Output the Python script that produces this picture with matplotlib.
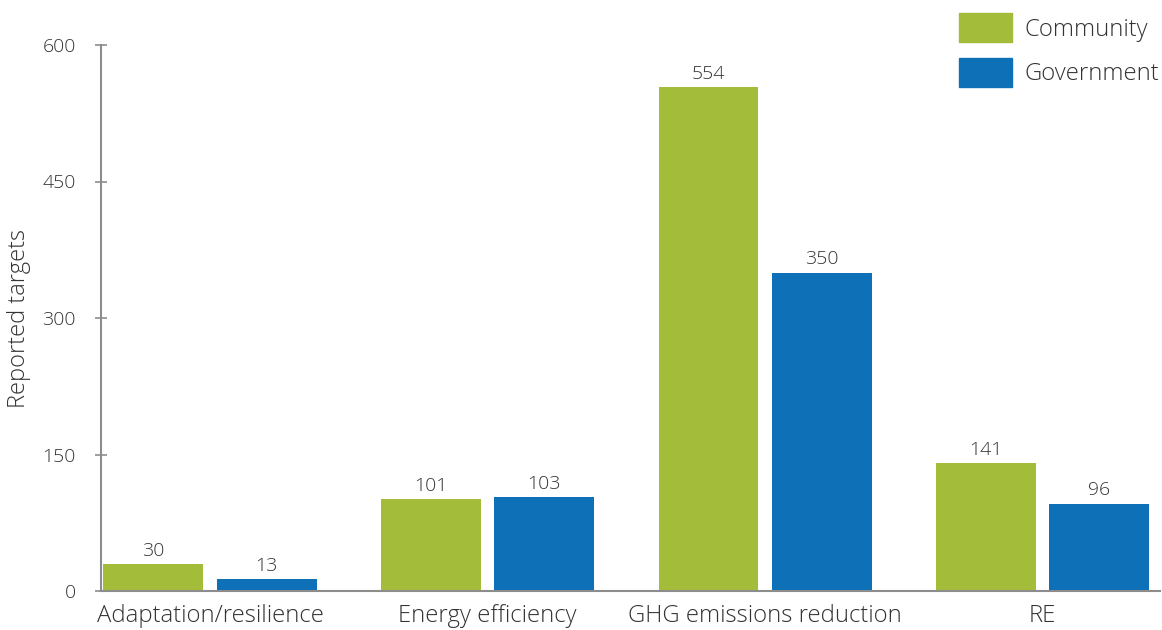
import matplotlib
matplotlib.use("Agg")
import matplotlib.pyplot as plt
import numpy as np
from matplotlib.patches import Patch

categories = ["Adaptation/resilience", "Energy efficiency", "GHG emissions reduction", "RE"]
community = [30, 101, 554, 141]
government = [13, 103, 350, 96]
series_names = ["Community", "Government"]
yticks = [0, 150, 300, 450, 600]

GREEN = "#A3BC3A"
BLUE = "#0E71B8"
TXT = "#333333"
SPINE = "#8C8C8C"

plt.rcParams['font.family'] = ['Open Sans', 'DejaVu Sans']
plt.rcParams['font.weight'] = 'light'
plt.rcParams['axes.labelweight'] = 'light'

fig = plt.figure(figsize=(11.62, 6.3), dpi=100)
ax = fig.add_axes([101/1162, 39/630, 1059/1162, 546/630])

x = np.arange(len(categories))
w = 0.36
off = 0.204
b1 = ax.bar(x - off, community, width=w, color=GREEN)
b2 = ax.bar(x + off, government, width=w, color=BLUE)

for bars, vals in ((b1, community), (b2, government)):
    for r, v in zip(bars, vals):
        ax.annotate(str(v), (r.get_x() + r.get_width()/2, v), xytext=(0, 3),
                    textcoords="offset points", ha="center", va="bottom",
                    fontsize=14, color=TXT)

ax.set_xlim(-0.393, 3.423)
ax.set_ylim(0, 600)
ax.set_yticks(yticks)
ax.set_yticklabels([str(t) for t in yticks], fontsize=14, color=TXT)
ax.set_xticks(x)
ax.set_xticklabels(categories, fontsize=17.2, color=TXT)
ax.tick_params(axis='x', length=0, pad=9)
ax.tick_params(axis='y', direction='inout', length=8, width=1.2, color=SPINE, pad=14)

for s in ("top", "right"):
    ax.spines[s].set_visible(False)
for s in ("left", "bottom"):
    ax.spines[s].set_color(SPINE)
    ax.spines[s].set_linewidth(1.5)

ax.set_ylabel("Reported targets", fontsize=17, color=TXT, labelpad=8, fontweight='light')

handles = [Patch(color=GREEN), Patch(color=BLUE)]
leg = fig.legend(handles, series_names, loc="upper right",
                 bbox_to_anchor=(1.0, 1 - 11/630),
                 frameon=False, fontsize=17.2, handlelength=2.22, handleheight=1.49,
                 handletextpad=0.55, labelspacing=0.65, borderaxespad=0, borderpad=0.1)
for t in leg.get_texts():
    t.set_color(TXT)

fig.savefig("out.png", dpi=100)
